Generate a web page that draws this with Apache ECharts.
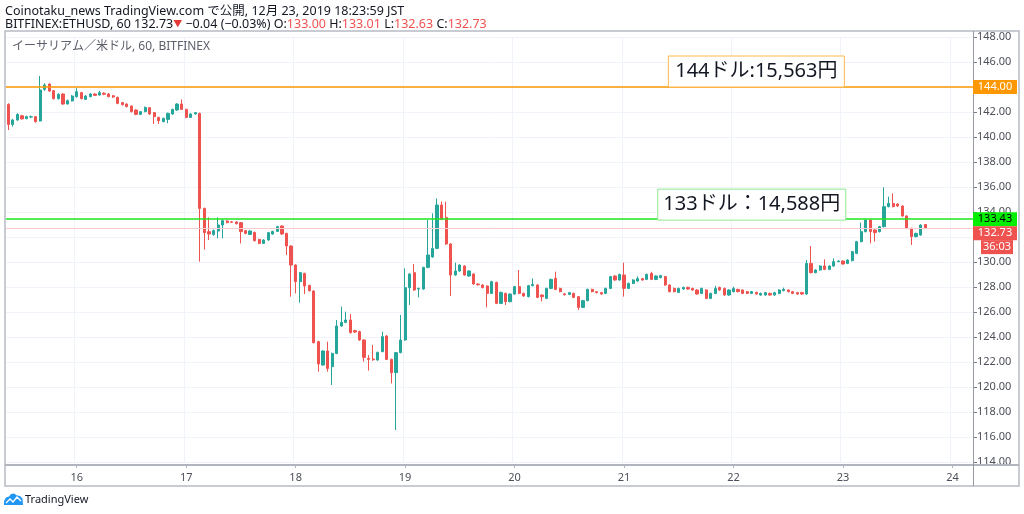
<!DOCTYPE html>
<html>
<head>
<meta charset="utf-8">
<script src="https://cdn.jsdelivr.net/npm/echarts@6/dist/echarts.min.js"></script>
<style>html,body{margin:0;padding:0;background:#fff}#c{width:1024px;height:514px}</style>
</head>
<body>
<div id="c"></div>
<script>
// ---- data (ETH/USD, Bitfinex, 60 min, from 15 Dec 09:00 JST) ----
const startUTC = Date.UTC(2019, 11, 15, 9);   // first candle time (JST clock)
const slotCount = 212;                        // hourly slots incl. empty space on the right
const opens = [142.61,141.00,141.36,141.70,141.47,141.60,141.63,141.28,143.81,144.24,143.71,143.07,143.44,142.64,142.88,143.23,143.55,143.01,143.23,143.44,143.36,143.50,143.44,143.30,143.17,142.75,142.64,142.48,142.16,141.81,142.03,142.35,141.95,141.57,141.23,141.41,141.84,142.16,142.64,142.21,141.57,141.84,141.89,134.29,
132.43,132.21,132.48,132.96,133.28,133.22,133.20,133.15,132.51,132.21,132.37,131.81,131.49,131.76,132.24,132.45,132.88,132.29,131.28,129.76,128.43,129.09,128.13,127.68,123.63,121.76,122.88,121.63,122.69,124.88,125.17,125.36,124.51,124.43,123.76,122.29,122.24,122.16,122.83,124.08,122.21,121.15,122.75,123.76,127.95,129.15,127.84,127.84,129.57,130.40,131.09,
134.56,133.57,131.44,128.96,129.28,129.68,128.88,129.04,128.24,128.16,128.08,127.49,128.37,126.69,127.49,126.83,127.44,128.03,127.49,127.23,128.11,128.16,127.36,127.09,127.89,128.69,127.89,127.45,127.41,127.49,127.23,126.37,126.91,127.81,127.62,127.55,127.49,127.89,128.88,128.56,128.96,
127.89,128.29,128.48,128.67,128.61,129.09,128.61,128.75,128.83,128.16,127.89,127.57,127.84,127.97,127.89,127.76,127.49,127.76,127.09,127.49,127.97,127.89,127.36,127.63,127.81,127.76,127.63,127.49,127.57,127.36,127.36,127.49,127.36,127.49,127.71,127.76,127.63,127.55,127.55,
127.44,129.89,129.15,129.36,129.68,129.41,129.68,130.03,130.08,129.89,130.11,130.69,131.63,132.43,133.36,132.56,132.43,132.83,134.43,134.69,134.64,134.48,133.68,132.69,132.03,132.16,133.00];
const closes = [141.01,141.36,141.81,141.45,141.63,141.62,141.23,143.76,144.16,143.68,143.07,143.41,142.64,142.91,143.28,143.63,143.07,143.28,143.44,143.33,143.55,143.42,143.23,143.20,142.69,142.59,142.43,142.03,141.81,142.03,142.37,141.84,141.63,141.31,141.49,141.89,142.21,142.64,142.21,141.57,141.84,141.95,134.29,132.35,
132.24,132.51,132.96,133.31,133.15,133.18,133.07,132.43,132.29,132.48,131.71,131.49,131.76,132.35,132.45,132.83,132.24,131.28,129.76,128.43,129.15,128.08,127.71,123.55,121.84,122.88,121.49,122.69,124.88,125.17,125.36,124.35,124.40,123.76,122.37,122.21,122.18,122.77,124.03,122.21,121.15,122.75,123.76,127.95,129.04,127.76,127.89,129.57,130.56,131.09,134.56,
133.41,131.44,128.96,129.28,129.76,128.96,129.28,128.24,128.18,127.95,127.49,128.43,126.69,127.57,126.83,127.44,128.03,127.49,127.28,128.11,128.21,127.17,127.22,127.89,128.61,127.81,127.63,127.38,127.55,127.17,126.37,126.91,127.81,127.63,127.55,127.44,127.89,128.83,128.56,129.01,127.89,
128.29,128.56,128.67,128.56,129.01,128.61,128.88,128.91,128.16,127.63,127.63,127.89,127.97,127.84,127.76,127.44,127.89,127.09,127.49,127.89,127.76,127.36,127.76,127.89,127.63,127.49,127.49,127.63,127.44,127.49,127.55,127.36,127.55,127.76,127.81,127.63,127.49,127.44,127.44,
129.89,129.15,129.36,129.68,129.41,129.68,130.03,130.08,129.84,130.16,130.83,131.63,132.43,133.36,132.43,132.35,132.83,134.43,134.69,134.43,134.48,133.68,132.69,132.03,132.29,132.96,132.73];
const lows = [140.56,140.83,141.30,141.40,141.42,141.50,141.15,141.25,143.70,143.60,143.00,143.00,142.58,142.60,142.85,143.15,143.00,142.98,143.18,143.28,143.30,143.35,143.18,143.12,142.62,142.52,142.38,141.96,141.74,141.76,141.98,141.78,141.04,141.04,141.18,141.10,141.78,142.10,142.16,141.50,141.52,141.80,130.03,131.00,
131.76,132.10,131.89,131.89,133.10,133.12,133.00,131.49,132.22,132.15,131.64,131.42,131.44,131.70,132.18,132.40,132.18,130.56,127.23,127.49,126.75,127.44,127.64,123.48,121.23,121.70,121.23,120.16,122.62,124.82,125.10,124.28,124.32,123.70,122.03,121.31,122.10,122.10,122.78,122.15,120.29,116.56,122.70,123.70,126.56,127.70,127.17,127.78,129.50,130.34,131.03,
133.35,131.38,127.28,128.90,129.22,128.90,128.82,128.18,128.12,127.89,126.37,127.44,126.63,126.63,126.56,126.77,127.38,127.43,127.22,127.17,128.05,127.11,126.85,127.03,127.83,127.75,127.57,127.32,127.35,127.11,126.16,126.31,126.85,127.57,127.49,127.38,127.43,127.83,128.50,128.50,127.23,
127.83,128.23,128.42,128.50,128.55,128.55,128.55,128.69,128.10,127.57,127.57,127.51,127.78,127.78,127.70,127.38,127.43,127.03,127.03,127.43,127.70,127.30,127.30,127.57,127.57,127.43,127.43,127.43,127.38,127.30,127.30,127.30,127.30,127.43,127.65,127.57,127.43,127.38,127.38,
127.38,129.09,129.09,129.30,129.35,129.35,129.62,129.97,129.78,129.83,130.05,130.63,131.57,132.37,131.49,131.63,132.37,132.77,134.37,134.37,134.42,133.62,132.63,131.36,131.97,132.10,132.63];
const highs = [142.70,141.45,141.90,141.78,141.70,141.72,141.68,144.88,144.30,144.30,143.76,143.50,143.50,143.00,143.35,143.90,143.62,143.35,143.52,143.50,143.70,143.58,143.52,143.36,143.24,142.80,142.70,142.52,142.20,142.08,142.44,142.40,142.00,141.62,141.55,141.95,142.26,142.70,143.01,142.26,141.90,142.00,141.95,134.35,
133.57,132.60,133.57,133.40,133.35,133.28,133.26,133.20,132.56,132.54,132.43,131.86,131.82,132.40,132.50,132.90,132.94,132.34,131.34,129.82,129.20,129.14,128.18,127.74,123.70,122.94,123.63,122.75,125.36,126.43,126.03,125.84,124.58,124.50,123.82,122.56,123.36,122.83,124.43,124.15,122.27,122.80,125.76,129.49,129.10,129.84,127.95,129.62,133.36,133.89,135.09,
134.83,134.83,131.50,129.95,129.82,129.74,129.34,129.10,128.30,128.22,128.14,128.50,128.43,127.63,127.55,127.50,128.09,129.36,127.55,128.17,128.69,128.22,127.42,127.95,128.67,129.23,127.95,127.51,127.61,127.55,127.29,126.97,127.87,127.87,127.68,127.61,127.95,128.89,128.94,129.07,129.95,
128.35,128.62,128.85,128.73,129.07,129.22,128.94,128.97,128.89,128.22,127.95,127.95,128.03,128.03,127.95,127.82,127.95,127.82,127.55,128.09,128.03,127.95,127.82,128.03,127.87,127.82,127.69,127.69,127.63,127.55,127.61,127.55,127.61,127.82,127.95,127.82,127.69,127.61,127.61,
130.16,131.28,129.42,129.74,130.21,129.74,130.29,130.14,130.14,130.22,130.89,131.69,133.15,133.42,133.42,132.62,132.89,135.97,135.23,135.49,134.70,134.54,133.74,132.75,132.35,133.02,133.01];
const yMin = 114, yMax = 148, yStep = 2;
const resistance = 144, support = 133.43, lastPrice = 132.73;
const resistanceNote = '144ドル:15,563円';
const supportNote = '133ドル：14,588円';
const countdown = '36:03';
const headerLine1 = 'Coinotaku_news TradingView.com で公開, 12月 23, 2019 18:23:59 JST';
const chartTitle = 'イーサリアム／米ドル, 60, BITFINEX';

const F = "'Noto Sans','Noto Sans CJK JP',sans-serif";
const UP = '#26a69a', DOWN = '#ef5350';

const cats = [];
for (let i = 0; i < slotCount; i++) {
  const d = new Date(startUTC + i * 3600e3);
  cats.push(d.getUTCDate() + ' ' + String(d.getUTCHours()).padStart(2, '0'));
}
const isDay = (idx, v) => v.endsWith(' 00');
const candles = opens.map((o, i) => [o, closes[i], lows[i], highs[i]]);

const chart = echarts.init(document.getElementById('c'), null, {renderer: 'canvas'});
chart.setOption({
  animation: false,
  backgroundColor: '#ffffff',
  grid: {left: 6, right: 51, top: 37, bottom: 52},
  xAxis: {
    type: 'category', data: cats, boundaryGap: true, offset: 3,
    axisLine: {show: false},
    axisTick: {show: true, alignWithLabel: true, interval: isDay, length: 3, lineStyle: {color: '#b2b5be'}},
    axisLabel: {interval: isDay, formatter: v => v.split(' ')[0], color: '#4c4f58', fontSize: 11, margin: 7, fontFamily: F},
    splitLine: {show: true, interval: isDay, lineStyle: {color: '#f0f3fa', width: 1}}
  },
  yAxis: {
    type: 'value', position: 'right', min: yMin, max: yMax, interval: yStep,
    axisLine: {show: false},
    axisTick: {show: true, length: 4, lineStyle: {color: '#787b86'}},
    axisLabel: {formatter: v => v.toFixed(2), color: '#4c4f58', fontSize: 11, margin: 4, fontFamily: F},
    splitLine: {show: true, lineStyle: {color: '#f0f3fa', width: 1}}
  },
  series: [{
    type: 'candlestick', data: candles, barWidth: 2.7,
    itemStyle: {color: UP, color0: DOWN, borderColor: UP, borderColor0: DOWN, borderWidth: 1},
    markLine: {
      silent: true, symbol: 'none', label: {show: false}, animation: false,
      data: [
        {yAxis: resistance, lineStyle: {color: '#ff9800', width: 1.5, type: 'solid'}},
        {yAxis: support, lineStyle: {color: '#1ee61e', width: 1.6, type: 'solid'}},
        {yAxis: lastPrice, lineStyle: {color: '#f9cdd0', width: 1, type: 'solid'}}
      ]
    }
  }]
});

const py = v => chart.convertToPixel({yAxisIndex: 0}, v);
const px = i => chart.convertToPixel({xAxisIndex: 0}, i);
const yR = py(resistance), yS = py(support), yL = py(lastPrice);
const yLTag = Math.max(yL, yS + 14);
const tag = (y, bg, fg, txt, x0, w) => ([
  {type: 'rect', z: 100, shape: {x: x0, y: y - 7, width: w, height: 14}, style: {fill: bg}},
  {type: 'text', z: 101, x: x0 + w / 2, y: y, style: {text: txt, fill: fg, font: '11px ' + F, align: 'center', verticalAlign: 'middle'}}
]);
const note = (cx, yb, txt, stroke, w) => ([
  {type: 'rect', z: 90, shape: {x: cx - w / 2, y: yb - 31, width: w, height: 31}, style: {fill: '#ffffff', stroke: stroke, lineWidth: 1}},
  {type: 'text', z: 91, x: cx, y: yb - 15.5, style: {text: txt, fill: '#131722', font: '20px ' + F, align: 'center', verticalAlign: 'middle'}}
]);
const g = [
  // frame & axis separators
  {type: 'rect', z: 80, shape: {x: 5, y: 31, width: 1014, height: 455}, style: {fill: 'none', stroke: '#b7bac2', lineWidth: 1.5}},
  {type: 'rect', z: 95, shape: {x: 974, y: 466, width: 44, height: 19}, style: {fill: '#ffffff'}},
  {type: 'line', z: 96, shape: {x1: 5, y1: 465, x2: 1019, y2: 465}, style: {stroke: '#b2b5be', lineWidth: 2}},
  {type: 'line', z: 96, shape: {x1: 973.5, y1: 31, x2: 973.5, y2: 486}, style: {stroke: '#9598a1', lineWidth: 1}},
  // header
  {type: 'text', z: 50, x: 5, y: 11, style: {text: headerLine1, fill: '#131722', font: '12.5px ' + F, verticalAlign: 'middle'}},
  {type: 'text', z: 50, x: 5, y: 24, style: {
    text: '{k|BITFINEX:ETHUSD, 60 132.73}{t|▼}{k| −0.04 (−0.03%) O:}{r|133.00}{k| H:}{r|133.01}{k| L:}{r|132.63}{k| C:}{r|132.73}',
    verticalAlign: 'middle', font: '12.5px ' + F,
    rich: {k: {fill: '#131722', fontSize: 12.5, fontFamily: F}, r: {fill: DOWN, fontSize: 12.5, fontFamily: F}, t: {fill: '#e53935', fontSize: 9, fontFamily: F}}
  }},
  {type: 'text', z: 50, x: 12, y: 47, style: {text: chartTitle, fill: '#5d606b', font: '12px ' + F, verticalAlign: 'middle'}},
  // footer logo
  {type: 'polygon', z: 50, shape: {points: [[4, 505], [4, 501], [6, 497.5], [9, 496.5], [11, 494], [14, 493.5], [17, 495.5], [20, 496], [22.5, 498.5], [23, 505]]}, style: {fill: '#2196f3'}},
  {type: 'polyline', z: 51, shape: {points: [[6, 503], [10, 499], [13, 502], [17, 497], [21, 501]]}, style: {stroke: '#ffffff', lineWidth: 1.3, fill: 'none'}},
  {type: 'text', z: 50, x: 25, y: 500, style: {text: 'TradingView', fill: '#131722', font: '11px ' + F, verticalAlign: 'middle'}}
]
.concat(note(px(164), yR, resistanceNote, '#ffb74d', 176))
.concat(note(px(163), yS + 1, supportNote, '#8fe88f', 188))
.concat(tag(yR, '#ff9800', '#ffffff', resistance.toFixed(2), 973, 44))
.concat(tag(yS, '#00ee00', '#000000', support.toFixed(2), 973, 44))
.concat(tag(yLTag, '#ef5350', '#ffffff', lastPrice.toFixed(2), 973, 44))
.concat(tag(yLTag + 14, '#ef5350', '#ffffff', countdown, 981, 32));
chart.setOption({graphic: g});
</script>
</body>
</html>
